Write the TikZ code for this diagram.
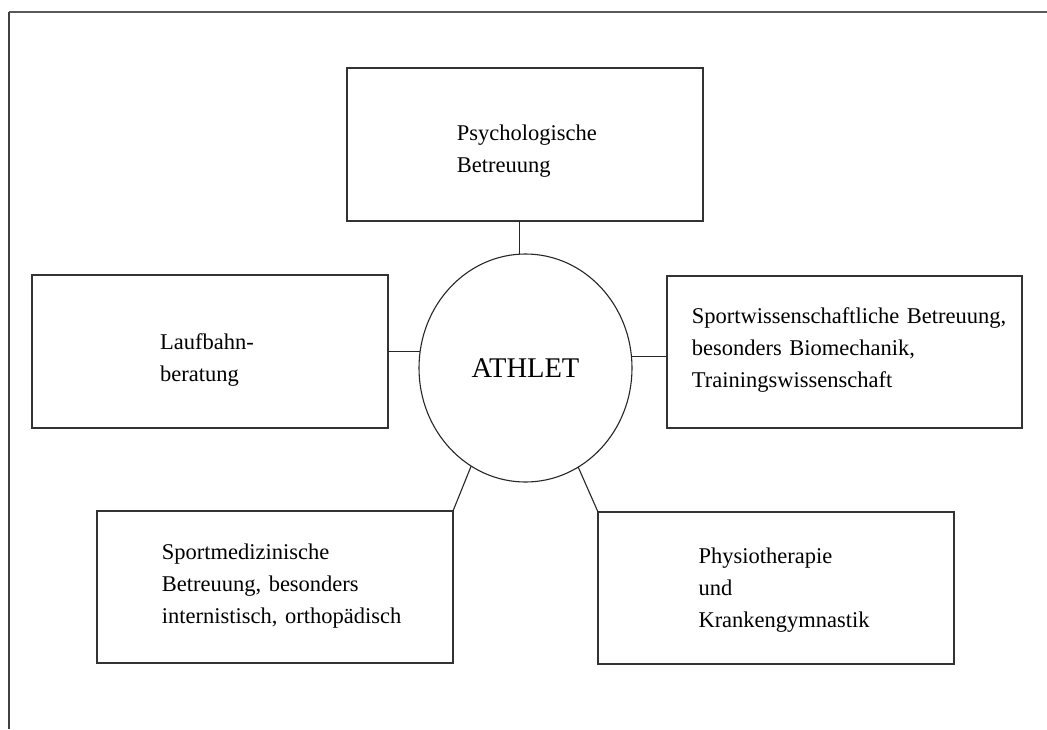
\documentclass[tikz,border=0pt]{standalone}
\usepackage{fontspec}
\setmainfont{Liberation Serif}
\usetikzlibrary{shapes.geometric}
\tikzset{
  boxnode/.style={draw=black!80, line width=1.2pt, minimum width=356pt, minimum height=153pt, inner sep=0pt, outer sep=0pt},
  txtnode/.style={anchor=base west, text width=335pt, align=left, inner sep=0pt,
    font=\fontsize{22.5}{32}\selectfont},
  conn/.style={draw=black!85, line width=1.1pt},
}
\begin{document}
\begin{tikzpicture}[x=1pt,y=-1pt]
\useasboundingbox (0,0) rectangle (1047,729);
% frame
\draw[black!65, line width=2.4pt] (9,11.7) -- (1047,11.7);
\draw[black!75, line width=1.4pt] (9,11.7) -- (9,729);
% boxes
\node[boxnode] (psy)   at (525,144.5) {};
\node[boxnode] (lauf)  at (210,351.5) {};
\node[boxnode, minimum width=355pt, minimum height=152pt] (sport) at (844.5,352) {};
\node[boxnode, minimum height=152pt] (med)   at (275,587) {};
\node[boxnode, minimum height=152pt] (phys)  at (776,588) {};
% center
\node[draw=black!85, line width=1.1pt, ellipse, minimum width=213pt, minimum height=228pt, inner sep=0pt, outer sep=0pt,
      font=\fontsize{28.5}{30}\selectfont] (athlet) at (525.5,368) {ATHLET};
% texts
\node[txtnode] (psyt)   at (456.7,140)   {Psychologische\\Betreuung};
\node[txtnode] (lauft)  at (160,349.3)   {Laufbahn-\\beratung};
\node[txtnode] (sportt) at (691.7,323.3) {Sportwissenschaftliche Betreuung,\\besonders Biomechanik,\\Trainingswissenschaft};
\node[txtnode] (medt)   at (161.7,559.3) {Sportmedizinische\\Betreuung, besonders\\internistisch, orthopädisch};
\node[txtnode] (physt)  at (698.3,563.3) {Physiotherapie\\und\\Krankengymnastik};
% connectors
\draw[conn] (athlet.93.26) -- (athlet.93.26 |- psy.south);
\draw[conn] (athlet.171.9) -- (athlet.171.9 -| lauf.east);
\draw[conn] (athlet.6.2) -- (athlet.6.2 -| sport.west);
\draw[conn] (med.north east) -- (athlet.241.8);
\draw[conn] (phys.north west) -- (athlet.298);
\end{tikzpicture}
\end{document}
